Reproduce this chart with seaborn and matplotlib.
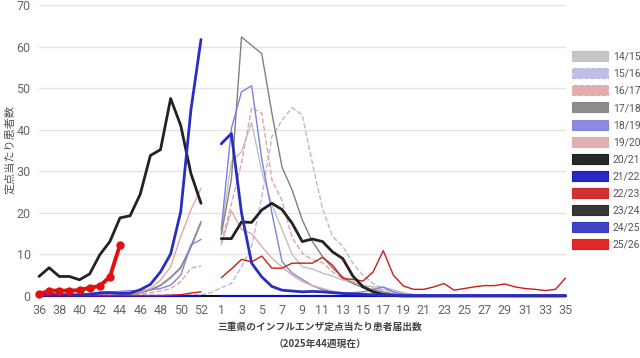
import numpy as np
import pandas as pd
import seaborn as sns
import matplotlib.pyplot as plt
from matplotlib.patches import Patch

# ---------------------------
# Data (weeks 36..53, then 1..35)
# ---------------------------
weeks = list(range(36, 54)) + list(range(1, 36))
N = np.nan

s1415 = [0.3, 0.3, 0.3, 0.3, 0.3, 0.3, 0.4, 0.4, 0.5, 0.6, 0.7, 1.4, 2.4, 4.2, 6.6, 11.5, 17.4,
         N,
         15.4, 32.3, 34.7, 41.7, 30.0, 22.0, 16.0, 10.0, 7.0, 6.5, 5.5, 4.8, 3.8, 3.2, 2.6,
         2.2, 2.0, 1.5, 0.8, 0.4, 0.3, 0.2, 0.2, 0.2, 0.2, 0.2, 0.2, 0.2, 0.2, 0.2, 0.2, 0.2, 0.2, 0.2, 0.2]
s1516 = [0.1, 0.1, 0.1, 0.1, 0.1, 0.1, 0.1, 0.1, 0.1, 0.1, 0.2, 0.2, 0.2, 0.3, 0.3, 0.3, 0.3,
         0.8,
         2.0, 3.0, 7.0, 11.9, 23.9, 38.3, 42.3, 45.3, 43.5, 32.0, 21.0, 14.3, 12.0, 7.9, 5.0,
         3.0, 1.8, 1.0, 0.5, 0.3, 0.2, 0.1, 0.1, 0.1, 0.1, 0.1, 0.1, 0.1, 0.1, 0.1, 0.1, 0.1, 0.1, 0.1, 0.1]
s1617 = [0.1, 0.1, 0.1, 0.1, 0.1, 0.1, 0.2, 0.2, 0.2, 0.3, 0.5, 0.8, 1.2, 1.8, 3.4, 6.7, 7.2,
         N,
         13.0, 22.0, 32.0, 45.3, 44.0, 28.0, 23.0, 14.0, 10.3, 8.7, 8.0, 5.8, 4.2, 3.5, 2.5,
         1.8, 1.5, 1.0, 0.6, 0.3, 0.2, 0.2, 0.2, 0.2, 0.2, 0.2, 0.2, 0.2, 0.2, 0.2, 0.2, 0.2, 0.2, 0.2, 0.2]
s1718 = [0.1, 0.1, 0.1, 0.1, 0.1, 0.2, 0.2, 0.2, 0.3, 0.4, 0.8, 1.5, 2.6, 4.5, 6.9, 11.9, 17.9,
         N,
         14.7, 28.0, 62.3, 60.3, 58.3, 44.0, 31.0, 25.5, 18.3, 13.1, 9.5, 6.7, 4.6, 3.0, 2.0,
         1.5, 1.0, 0.5, 0.3, 0.2, 0.1, 0.1, 0.1, 0.1, 0.1, 0.1, 0.1, 0.1, 0.1, 0.1, 0.1, 0.1, 0.1, 0.1, 0.1]
s1819 = [0.2, 0.2, 0.2, 0.2, 0.3, 0.5, 1.0, 1.0, 1.1, 1.3, 1.3, 1.5, 1.8, 2.6, 5.0, 12.3, 13.6,
         N,
         16.0, 40.3, 49.1, 50.6, 33.0, 20.0, 8.3, 5.5, 4.0, 2.5, 1.5, 1.0, 0.8, 0.8, 1.0,
         1.5, 2.2, 1.0, 0.4, 0.2, 0.1, 0.1, 0.1, 0.1, 0.1, 0.1, 0.1, 0.1, 0.1, 0.1, 0.1, 0.1, 0.1, 0.1, 0.1]
s1920 = [0.2, 0.2, 0.2, 0.2, 0.2, 0.3, 0.3, 0.3, 0.4, 0.6, 1.0, 1.8, 3.8, 7.0, 14.3, 20.7, 25.9,
         N,
         12.3, 20.5, 16.0, 15.0, 11.9, 9.1, 7.0, 5.0, 3.5, 2.5, 1.8, 1.2, 0.8, 0.5, 0.3,
         0.2, 0.2, 0.1, 0.1, 0.1, 0.1, 0.1, 0.1, 0.1, 0.1, 0.1, 0.1, 0.1, 0.1, 0.1, 0.1, 0.1, 0.1, 0.1, 0.1]
s2021 = [0.0] * 53
s2122 = [0.0] * 17 + [N] + [0.0] * 35
s2223 = [0.1, 0.1, 0.1, 0.1, 0.1, 0.1, 0.1, 0.1, 0.1, 0.1, 0.1, 0.1, 0.1, 0.2, 0.3, 0.7, 1.0,
         N,
         4.4, 6.5, 8.8, 8.2, 9.6, 6.7, 6.7, 7.9, 7.9, 7.9, 9.3, 7.4, 4.2, 4.0, 3.6,
         5.8, 10.9, 5.0, 2.4, 1.6, 1.6, 2.2, 3.0, 1.4, 1.8, 2.2, 2.5, 2.5, 2.9, 2.2, 1.8, 1.6, 1.3, 1.6, 4.3]
s2324 = [4.7, 6.8, 4.7, 4.7, 3.9, 5.3, 9.9, 13.1, 18.8, 19.3, 24.5, 33.8, 35.2, 47.5, 41.0, 29.5, 22.3,
         N,
         13.8, 13.8, 17.8, 17.7, 20.7, 22.3, 20.8, 17.5, 13.1, 13.7, 13.1, 10.6, 9.0, 4.8, 2.2,
         1.0, 0.4, 0.1, 0.0, 0.0, 0.0, 0.0, 0.0, 0.0, 0.0, 0.0, 0.0, 0.0, 0.0, 0.0, 0.0, 0.0, 0.0, 0.0, 0.0]
s2425 = [0.4, 0.4, 0.3, 0.3, 0.3, 0.4, 0.7, 0.8, 0.6, 0.7, 1.5, 2.8, 5.8, 10.1, 20.3, 44.7, 61.7,
         N,
         36.6, 39.1, 20.0, 7.9, 4.6, 2.3, 1.4, 1.2, 1.0, 1.1, 1.0, 0.8, 0.6, 0.5, 0.4,
         0.3, 0.2, 0.2, 0.1, 0.1, 0.1, 0.1, 0.1, 0.1, 0.1, 0.1, 0.1, 0.1, 0.1, 0.1, 0.1, 0.1, 0.1, 0.1, 0.1]
s2526 = [0.4, 1.3, 1.3, 1.3, 1.4, 2.0, 2.4, 4.6, 12.3] + [N] * 44

seasons = ["14/15", "15/16", "16/17", "17/18", "18/19", "19/20",
           "20/21", "21/22", "22/23", "23/24", "24/25", "25/26"]
series = [s1415, s1516, s1617, s1718, s1819, s1920,
          s2021, s2122, s2223, s2324, s2425, s2526]
colors = ["#c0c0c0", "#b8b8e0", "#e0a4a4", "#808080", "#8080e0", "#e0a8a8",
          "#111111", "#1010c0", "#cc1c1c", "#222222", "#2a2ec0", "#e31010"]
styles = ["-", "--", "--", "-", "-", "-", "-", "-", "-", "-", "-", "-"]
widths = [1.0, 1.0, 1.0, 1.0, 1.0, 1.0, 1.5, 1.5, 1.0, 2.0, 2.0, 2.8]

# ---------------------------
# Plot
# ---------------------------
sns.set_style("white")
plt.rcParams["font.family"] = ["Noto Sans CJK JP", "DejaVu Sans"]

fig = plt.figure(figsize=(6.4, 3.58), dpi=100)
ax = fig.add_axes([39 / 640, 1 - 296 / 358, 526.5 / 640, 291 / 358])

x = np.arange(len(weeks))
for name, vals, c, ls, lw in zip(seasons, series, colors, styles, widths):
    df = pd.DataFrame({"x": x, "y": vals})
    df["run"] = df["y"].isna().cumsum()
    df = df.dropna()
    for _, seg in df.groupby("run"):
        sns.lineplot(data=seg, x="x", y="y", ax=ax, color=c, linestyle=ls, linewidth=lw,
                     estimator=None, sort=False, legend=False,
                     marker="o" if name == "25/26" else None, markersize=6,
                     markeredgewidth=0)
for line in ax.get_lines():
    line.set_clip_on(False)

ax.set_xlim(0, len(weeks) - 1)
ax.set_ylim(0, 70)
ax.set_yticks(range(0, 71, 10))
ax.set_xticks(x[::2])
ax.set_xticklabels([str(w) for w in weeks][::2])
ax.tick_params(length=0, labelsize=9, labelcolor="#666666", pad=6)
for lab in ax.get_xticklabels() + ax.get_yticklabels():
    lab.set_family(["Roboto", "DejaVu Sans"])
ax.grid(axis="y", color="#e4e4e4", linewidth=1)
sns.despine(ax=ax, left=True, bottom=True)
ax.set_xlabel("")
ax.set_ylabel("")

fig.text(10 / 640, 1 - 150 / 358, "定点当たり患者数", rotation=90, ha="center", va="center",
         fontsize=8, color="#555555")
fig.text(320 / 640, 1 - 327 / 358, "三重県のインフルエンザ定点当たり患者届出数",
         ha="center", va="center", fontsize=7, color="#444444", fontweight="bold")
fig.text(320 / 640, 1 - 344 / 358, "（2025年44週現在）",
         ha="center", va="center", fontsize=7, color="#444444", fontweight="bold")

handles = []
for name, c, ls in zip(seasons, colors, styles):
    handles.append(Patch(facecolor=c, edgecolor=c, alpha=0.9, linestyle=ls, linewidth=0.8, label=name))
leg = fig.legend(handles=handles, loc="upper left", bbox_to_anchor=(568 / 640, 1 - 47 / 358),
                 frameon=False, fontsize=7.5, handlelength=3.4, handleheight=1.1,
                 labelspacing=0.63, handletextpad=0.5, borderaxespad=0)
for t in leg.get_texts():
    t.set_color("#555555")
    t.set_family(["Roboto", "DejaVu Sans"])

plt.savefig("out.png", dpi=100)
